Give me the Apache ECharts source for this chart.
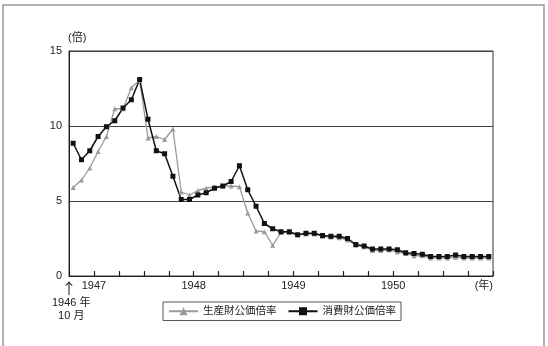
<!DOCTYPE html>
<html>
<head>
<meta charset="utf-8">
<script src="https://cdn.jsdelivr.net/npm/echarts@6/dist/echarts.min.js"></script>
<style>
  html, body, #chart { width: 100%; height: 100%; margin: 0; background: #fff; }
</style>
</head>
<body>
<div id="chart"></div>
<script>
// monthly, 1946/10 .. 1950/12
var producerRate = [
  5.9, 6.4, 7.2, 8.3, 9.3, 11.15, 11.15, 12.55, 13.05, 9.2, 9.3, 9.1,
  9.8, 5.6, 5.4, 5.7, 5.85, 5.95, 6.0, 6.0, 5.95, 4.2, 3.0, 2.95,
  2.05, 2.9, 2.9, 2.75, 2.8, 2.8, 2.65, 2.6, 2.55, 2.4, 2.05, 1.95,
  1.7, 1.7, 1.75, 1.6, 1.5, 1.35, 1.35, 1.2, 1.2, 1.2, 1.25, 1.2,
  1.2, 1.2, 1.2
];
var consumerRate = [
  8.85, 7.75, 8.35, 9.3, 9.95, 10.35, 11.2, 11.75, 13.1, 10.45, 8.35, 8.15,
  6.65, 5.1, 5.1, 5.4, 5.55, 5.85, 6.0, 6.3, 7.35, 5.75, 4.65, 3.5,
  3.15, 2.95, 2.95, 2.75, 2.85, 2.85, 2.7, 2.65, 2.65, 2.5, 2.1, 2.0,
  1.8, 1.8, 1.8, 1.75, 1.55, 1.5, 1.45, 1.3, 1.3, 1.3, 1.4, 1.3,
  1.3, 1.3, 1.3
];
var yearLabels = ['1947', '1948', '1949', '1950'];
var seriesNames = ['生産財公価倍率', '消費財公価倍率'];

var FONT = "'Liberation Sans', 'Noto Sans CJK JP', sans-serif";
var chart = echarts.init(document.getElementById('chart'));

function toPoints(arr) {
  // each month sits in the middle of its slot
  return arr.map(function (v, i) { return [i + 0.5, v]; });
}

var option = {
  animation: false,
  textStyle: { fontFamily: FONT },
  graphic: [{
    type: 'rect',
    shape: { x: 3, y: 5, width: 541, height: 360 },
    style: { fill: 'none', stroke: '#999', lineWidth: 1.5 }
  }, {
    // start-of-series note under the arrow
    type: 'text',
    left: 52, top: 296,
    style: {
      text: '1946 年\n  10 月',
      fill: '#222', font: "11px " + FONT, lineHeight: 13
    }
  }],
  grid: {
    left: 69, right: 55, top: 51, bottom: 70,
    show: true, borderColor: '#333', borderWidth: 1
  },
  legend: {
    left: 163, top: 302,
    padding: [4, 5],
    itemGap: 11, itemWidth: 29, itemHeight: 10,
    borderColor: '#555', borderWidth: 1,
    textStyle: { fontSize: 10.5, color: '#222', fontFamily: FONT },
    data: seriesNames
  },
  xAxis: {
    type: 'value',
    min: 0, max: 51, interval: 3,
    axisLine: { show: true, onZero: false, lineStyle: { color: '#222', width: 1 } },
    axisTick: { show: true, inside: true, length: 5, lineStyle: { color: '#222', width: 1.2 } },
    splitLine: { show: false },
    axisLabel: {
      fontSize: 11, color: '#222', margin: 4,
      hideOverlap: false,
      showMinLabel: true, showMaxLabel: true,
      alignMaxLabel: 'right',
      formatter: function (v) {
        var m = Math.round(v);
        if (m === 0) return '{arrow|↑}';
        if (m === 51) return '(年)';
        if ((m - 3) % 12 === 0) {
          var k = (m - 3) / 12;
          if (k >= 0 && k < yearLabels.length) return yearLabels[k];
        }
        return '';
      },
      rich: {
        arrow: { fontSize: 15, lineHeight: 16, color: '#222', fontFamily: "'Noto Sans CJK JP', sans-serif" }
      }
    }
  },
  yAxis: {
    type: 'value',
    min: 0, max: 15, interval: 5,
    name: '(倍)',
    nameLocation: 'end',
    nameGap: 8,
    nameTextStyle: { fontSize: 11, color: '#222', align: 'left', padding: [0, 0, 0, -1] },
    axisLine: { show: true, lineStyle: { color: '#222', width: 1 } },
    axisTick: { show: false },
    axisLabel: { fontSize: 11, color: '#222', margin: 7 },
    splitLine: { lineStyle: { color: '#444', width: 1 } }
  },
  series: [{
    name: seriesNames[0],
    type: 'line',
    data: toPoints(producerRate),
    symbol: 'triangle',
    symbolSize: 5,
    color: '#9a9a9a',
    lineStyle: { color: '#9a9a9a', width: 1.3 },
    itemStyle: { color: '#9a9a9a' }
  }, {
    name: seriesNames[1],
    type: 'line',
    data: toPoints(consumerRate),
    symbol: 'rect',
    symbolSize: 5,
    color: '#111',
    lineStyle: { color: '#111', width: 1.5 },
    itemStyle: { color: '#111' }
  }]
};
chart.setOption(option);
</script>
</body>
</html>
